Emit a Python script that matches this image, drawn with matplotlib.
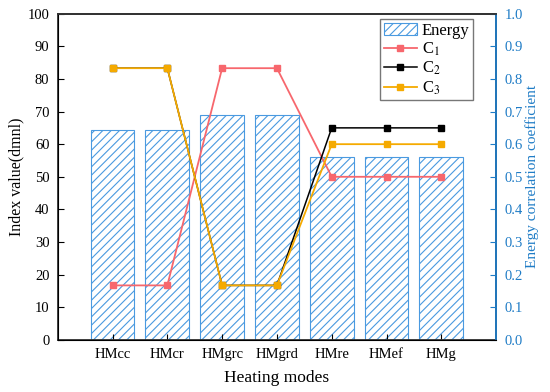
import numpy as np
import matplotlib.pyplot as plt

plt.rcParams['font.family'] = ['Liberation Serif', 'DejaVu Serif']
plt.rcParams['mathtext.fontset'] = 'stix'
plt.rcParams['hatch.linewidth'] = 0.8

modes = ['HMcc', 'HMcr', 'HMgrc', 'HMgrd', 'HMre', 'HMef', 'HMg']
energy = [64.5, 64.5, 69.0, 69.0, 56.0, 56.0, 56.0]
c1 = [0.167, 0.167, 0.833, 0.833, 0.5, 0.5, 0.5]
c2 = [0.833, 0.833, 0.167, 0.167, 0.65, 0.65, 0.65]
c3 = [0.833, 0.833, 0.167, 0.167, 0.6, 0.6, 0.6]

blue = '#1f7cc6'
x = np.arange(len(modes))

fig, ax = plt.subplots(figsize=(5.5, 3.92), dpi=100)
fig.subplots_adjust(left=0.105, right=0.902, top=0.965, bottom=0.133)

ax.bar(x, energy, width=0.8, color='white', edgecolor='#4a9ae0',
       hatch='////', linewidth=0.8, label='Energy')

ax.set_xlim(-1, 7)
ax.set_ylim(0, 100)
ax.set_yticks(range(0, 101, 10))
ax.set_xticks(x)
ax.set_xticklabels(modes)
ax.set_xlabel('Heating modes', fontsize=12.5, labelpad=6)
ax.set_ylabel('Index value(dmnl)', fontsize=11.5, labelpad=2)
ax.tick_params(direction='in', labelsize=10.5, length=4, pad=6)
for s in ax.spines.values():
    s.set_color('#333333')
    s.set_linewidth(1.3)

ax2 = ax.twinx()
ax2.plot(x, c1, color='#f7676d', marker='s', markersize=4.5, lw=1.3, label='C$_1$')
ax2.plot(x, c2, color='black', marker='s', markersize=4.2, lw=1.1, label='C$_2$')
ax2.plot(x, c3, color='#f5aa00', marker='s', markersize=4.5, lw=1.3, label='C$_3$')
ax2.set_ylim(0, 1)
ax2.set_yticks(np.arange(0, 1.01, 0.1))
ax2.set_yticklabels([f'{v:.1f}' for v in np.arange(0, 1.01, 0.1)])
ax2.set_ylabel('Energy correlation coefficient', fontsize=11, color=blue, labelpad=2)
ax2.tick_params(axis='y', direction='in', colors=blue, labelsize=10.5, length=4, pad=6)
ax2.spines['right'].set_color(blue)
ax2.spines['right'].set_linewidth(1.3)
ax2.spines['top'].set_color('#333333')
ax2.spines['top'].set_linewidth(1.3)

h1, l1 = ax.get_legend_handles_labels()
h2, l2 = ax2.get_legend_handles_labels()
leg = ax2.legend(h1 + h2, l1 + l2, loc='upper right', bbox_to_anchor=(0.955, 0.993),
                 fontsize=12, fancybox=False, edgecolor='#555555',
                 handlelength=2.0, borderpad=0.2, labelspacing=0.12,
                 handletextpad=0.3, borderaxespad=0.2)
leg.get_frame().set_linewidth(1.0)

fig.savefig('out.png', dpi=100)
